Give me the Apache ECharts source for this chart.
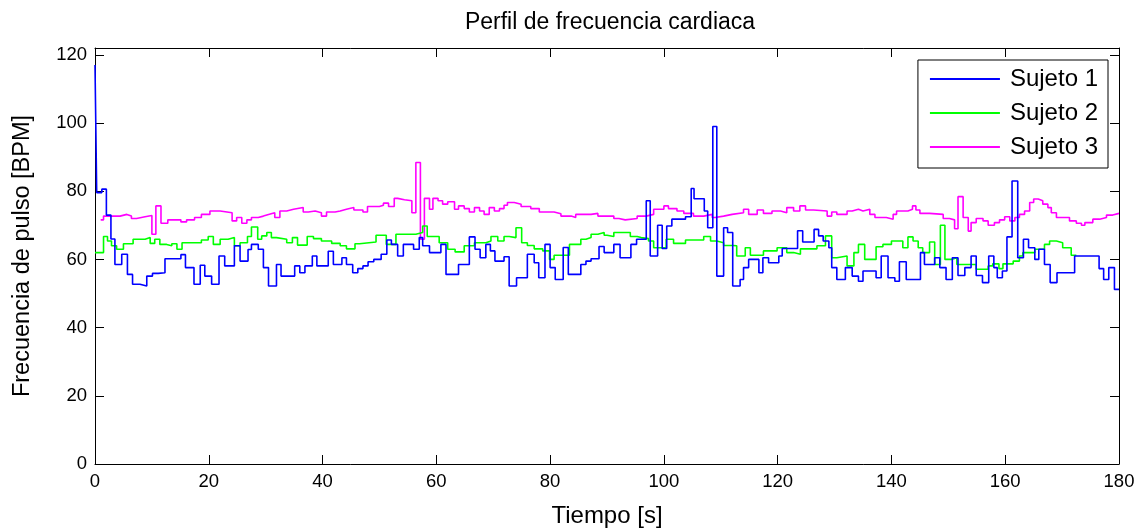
<!DOCTYPE html>
<html>
<head>
<meta charset="utf-8">
<script src="https://cdn.jsdelivr.net/npm/echarts@6/dist/echarts.min.js"></script>
<style>html,body{margin:0;padding:0;background:#fff}#c{width:1144px;height:529px}</style>
</head>
<body>
<div id="c"></div>
<script>
// ---- data: [time (s), BPM] step points (value holds until next time) ----
const sujeto1 = [[0,117],[0.3,79.6],[1.2,80.6],[2.0,73],[2.8,66],[3.5,58.5],[4.7,61.5],[5.7,55.6],[6.6,52.7],[7.9,52.2],[9.1,55.1],[10.1,55.9],[11.1,56.1],[12.3,60.2],[15.1,61.4],[15.9,57.6],[17.4,52.7],[18.5,58.3],[19.3,55.1],[20.5,52.7],[21.8,61.0],[22.8,58.1],[24.5,64.0],[25.5,59.5],[26.9,62.9],[27.5,64.4],[28.7,63.0],[29.6,57.6],[30.5,52.2],[31.9,58.5],[32.7,55.1],[35.1,58.1],[36.0,56.1],[36.9,58.1],[38.2,61.0],[39.0,58.1],[41.0,62.4],[41.9,58.5],[43.4,60.5],[44.2,58.5],
[45.3,56.1],[46.2,57.3],[47.1,58.1],[48.0,59.3],[49.0,60.0],[50.3,61.5],[51.3,65.7],[52.1,64.4],[53.2,61.0],[54.2,64.4],[56.0,63.0],[57.0,66.4],[57.6,64.0],[58.8,62.0],[60.8,64.4],[61.7,55.6],[63.9,58.5],[65.8,66.6],[66.8,63.0],[67.7,60.5],[68.7,64.4],[69.5,62.5],[70.3,59.5],[71.9,60.8],[72.8,52.2],[74.1,54.6],[76.0,61.5],[77.2,59.0],[78.0,54.6],[79.1,64.4],[80.0,57.6],[80.9,54.1],[82.3,63.5],[83.2,55.6],[85.4,58.5],[86.3,59.5],[87.2,60.2],[88.6,63.8],[89.5,62.0],
[91.2,64.4],[92.3,60.5],[94.2,64.4],[95.2,65.9],[96.9,77.2],[97.6,61.0],[98.9,70.0],[99.7,63.2],[100.5,69.8],[101.4,71.8],[103.8,72.5],[104.8,80.8],[105.3,77.8],[107.1,74.2],[107.7,69.3],[108.6,99],[109.3,55.1],[110.5,69.3],[111.2,67.9],[112.1,52.2],[113.4,54.1],[114.0,57.6],[114.9,60.0],[116.7,56.1],[117.4,60.5],[118.4,59.0],[120.2,61.0],[120.8,63.2],[123.5,68.4],[124.4,65.1],[126.4,68.8],[127.2,66.9],[128.0,65.4],[129.0,63.4],[129.5,57.6],[130.4,54.1],[131.9,57.6],[133.1,55.1],[134.2,53.6],
[135.0,56.6],[137.3,54.6],[138.2,61.0],[139.4,54.6],[140.6,53.6],[141.4,59.3],[142.6,54.1],[145.1,62.0],[145.8,58.5],[147.6,60.5],[148.5,57.6],[149.6,54.1],[150.7,60.5],[151.7,55.3],[152.9,57.6],[154.0,61.0],[154.9,55.3],[156.0,53.2],[157.1,61.0],[158.0,57.6],[158.6,54.6],[159.5,56.6],[160.3,66.6],[161.2,83.0],[162.2,60.5],[163.2,65.9],[164.1,63.4],[165.2,60.0],[165.9,63.0],[166.9,58.5],[167.9,53.2],[169.1,56.1],[172.2,61.0],[176.5,57.3],[177.3,54.1],[178.2,57.6],[179.2,51.2],[180,51.2]];

const sujeto2 = [[0,62.0],[1.5,66.7],[2.2,65.4],[2.9,64.0],[3.8,63.0],[5.0,64.6],[6.7,65.9],[8.8,66.4],[9.7,64.7],[10.5,65.9],[11.4,64.4],[12.6,64.0],[13.5,64.6],[14.4,63.0],[15.3,64.9],[18.7,65.7],[19.9,66.7],[20.8,64.4],[22.0,65.9],[23.4,66.4],[24.5,64.0],[25.5,64.9],[26.8,66.7],[27.5,69.5],[28.6,65.9],[29.3,66.9],[30.2,67.9],[31.0,66.4],[31.9,65.9],[33.7,64.9],[34.7,66.4],[35.6,64.2],[37.3,66.7],[38.4,66.1],[39.8,65.4],[41.6,64.7],[43.1,64.0],[44.2,63.1],
[45.7,64.6],[46.5,65.1],[49.4,67.1],[51.2,64.4],[52.9,67.4],[56.4,67.9],[57.6,69.8],[58.4,66.7],[60.5,64.9],[62.0,63.0],[63.3,62.2],[64.9,64.0],[66.7,64.9],[68.7,65.4],[69.6,66.7],[70.8,65.4],[71.9,66.7],[72.8,66.4],[74.0,69.3],[75.0,64.9],[76.0,64.1],[77.2,63.1],[78.7,62.5],[79.9,60.0],[80.7,61.2],[83.4,64.4],[85.4,65.9],[86.3,66.4],[87.2,67.4],[88.4,67.9],[89.5,67.1],
[90.0,66.7],[91.2,67.9],[94.1,66.7],[95.3,66.4],[96.0,66.1],[97.3,65.4],[98.2,63.4],[100.4,65.9],[101.7,64.7],[103.8,65.7],[107.0,66.7],[108.2,65.4],[109.3,64.9],[110.5,64.1],[112.1,64.0],[112.8,61.0],[114.3,63.4],[115.2,61.2],[117.5,62.5],[119.9,63.4],[121.6,62.0],[122.8,61.5],[124.0,63.1],[126.9,64.0],[128.4,66.9],[129.5,60.5],[130.4,61.0],[132.2,58.1],[133.4,62.0],[134.2,64.4],
[135.3,60.0],[137.3,63.7],[138.5,64.4],[140.0,65.4],[142.0,63.4],[142.9,66.6],[143.8,65.4],[144.7,63.4],[145.5,62.0],[146.7,65.1],[147.6,58.5],[148.6,70.0],[149.4,60.0],[150.5,60.5],[151.5,58.5],[154.9,57.1],[157.0,58.1],[157.8,58.7],[158.9,57.3],[159.6,58.7],[161.4,59.5],[162.5,61.0],[163.1,62.0],[165.2,63.0],[166.9,64.4],[167.8,65.4],[169.0,64.9],[170.1,63.4],[171.6,61.2],[172.5,61.2]];

const sujeto3 = [[1.0,71.6],[1.5,72.7],[4.4,73.2],[5.6,72.7],[6.4,72.0],[7.3,72.5],[8.8,72.9],[10.0,67.4],[10.7,75.7],[11.6,70.6],[12.8,71.6],[15.1,71.0],[16.1,71.6],[17.5,72.3],[18.7,73.2],[20.2,74.2],[22.0,73.7],[24.1,71.3],[24.9,72.3],[25.8,70.6],[26.7,71.6],[27.5,72.3],[28.7,72.7],[29.6,73.2],[30.5,73.7],[31.6,72.3],[32.5,74.2],[33.7,74.7],[34.9,75.2],[36.6,73.9],[37.5,74.2],[38.7,73.7],[39.8,72.7],[40.7,73.9],[42.2,74.2],[43.1,74.7],[44.2,75.2],
[45.5,74.5],[47.1,73.9],[47.9,75.5],[50.0,75.9],[50.7,76.5],[51.6,75.5],[52.6,77.9],[53.2,77.5],[54.4,77.2],[55.7,73.7],[56.4,88.4],[57.2,65.9],[57.9,77.9],[58.8,74.7],[59.4,77.9],[60.3,77.2],[61.1,76.2],[62.0,76.9],[63.2,74.7],[63.9,75.7],[64.9,74.9],[65.8,73.9],[66.7,75.2],[67.6,74.2],[68.4,73.2],[69.3,75.2],[70.2,74.2],[71.1,74.9],[71.9,75.9],[72.5,76.7],[73.7,76.2],[74.9,75.5],[76.6,74.9],[78.1,73.9],[80.7,73.4],[81.9,72.7],[83.7,72.3],[84.5,73.2],[87.2,73.5],[88.4,72.7],
[91.2,72.0],[92.1,71.6],[93.2,72.0],[95.3,72.7],[96.9,73.2],[98.2,74.7],[100.0,75.7],[100.8,74.9],[102.3,74.2],[103.5,73.5],[105.2,72.7],[107.0,73.2],[108.5,72.3],[109.0,72.7],[110.5,73.2],[112.0,73.7],[114.0,74.7],[114.9,73.2],[116.4,74.5],[117.5,73.5],[119.0,74.2],[120.5,73.7],[121.6,75.2],[122.8,74.2],[123.9,75.7],[124.9,74.5],[126.3,74.2],[128.7,72.7],[129.5,73.9],[130.4,73.2],[132.2,74.2],[133.1,74.7],[134.2,74.2],
[135.0,74.7],[136.2,73.2],[137.1,72.3],[139.1,71.8],[140.3,73.2],[140.9,74.2],[142.9,74.7],[143.7,75.7],[144.3,74.5],[145.0,73.5],[146.7,73.2],[149.1,72.0],[150.2,71.6],[151.1,69.0],[151.7,78.4],[152.6,72.3],[153.5,68.3],[154.0,70.8],[154.9,72.0],[156.1,71.3],[157.0,70.0],[158.1,70.8],[159.0,71.6],[159.9,72.5],[160.8,71.3],[161.7,72.3],[162.5,73.2],[163.4,74.2],[164.3,76.7],[165.0,77.7],[165.8,77.2],[166.6,76.2],[167.5,75.2],[168.1,73.7],[169.0,72.3],[171.3,71.3],[172.5,70.6],[173.4,70.0],[174.0,70.8],[175.4,71.8],[176.6,72.3],[177.8,73.0],[178.9,73.5],[180,73.5]];

const seriesNames = ['Sujeto 1', 'Sujeto 2', 'Sujeto 3'];
const seriesColors = ['#0000ff', '#00ff00', '#ff00ff'];
const xTicks = [0, 180, 20];   // min, max, interval
const yTicks = [0, 122, 20];

const FONT = 'Liberation Sans';
const chart = echarts.init(document.getElementById('c'), null, {renderer: 'canvas'});

function axisCommon(showLabel) {
  return {
    axisLine: {show: true, onZero: false, lineStyle: {color: '#000', width: 1}},
    axisTick: {show: true, inside: true, length: 9, lineStyle: {color: '#000', width: 1}},
    splitLine: {show: false},
    axisLabel: {show: showLabel, color: '#000', fontFamily: FONT, fontSize: 18.5, margin: 8, showMaxLabel: false}
  };
}

const xBase = {type: 'value', min: xTicks[0], max: xTicks[1], interval: xTicks[2]};
const yBase = {type: 'value', min: yTicks[0], max: yTicks[1], interval: yTicks[2]};

chart.setOption({
  animation: false,
  backgroundColor: '#fff',
  title: {
    text: 'Perfil de frecuencia cardiaca', left: 605, top: 6, textAlign: 'center',
    textStyle: {fontFamily: FONT, fontSize: 23, fontWeight: 'normal', color: '#000'}
  },
  grid: {left: 95, right: 25, top: 48, bottom: 65, containLabel: false, outerBoundsMode: 'none'},
  legend: {
    data: seriesNames, orient: 'vertical', right: 36, top: 60,
    icon: 'rect', itemWidth: 70, itemHeight: 2, itemGap: 10,
    padding: [7, 10, 9, 12],
    borderColor: '#000', borderWidth: 1, backgroundColor: '#fff', borderRadius: 0,
    textStyle: {fontFamily: FONT, fontSize: 24, lineHeight: 24, color: '#000', padding: [0, 0, 0, 5]}
  },
  xAxis: [
    Object.assign({}, xBase, axisCommon(true), {position: 'bottom',
      name: 'Tiempo [s]', nameLocation: 'middle', nameGap: 40,
      nameTextStyle: {fontFamily: FONT, fontSize: 24, color: '#000'}}),
    Object.assign({}, xBase, axisCommon(false), {position: 'top'})
  ],
  yAxis: [
    Object.assign({}, yBase, axisCommon(true), {position: 'left',
      name: 'Frecuencia de pulso [BPM]', nameLocation: 'middle', nameGap: 60,
      nameTextStyle: {fontFamily: FONT, fontSize: 23.5, color: '#000'}}),
    Object.assign({}, yBase, axisCommon(false), {position: 'right'})
  ],
  series: [sujeto1, sujeto2, sujeto3].map((d, i) => ({
    name: seriesNames[i], type: 'line', step: 'end', data: d,
    xAxisIndex: 0, yAxisIndex: 0,
    showSymbol: false, symbol: 'none',
    lineStyle: {color: seriesColors[i], width: 1.6},
    itemStyle: {color: seriesColors[i]},
    z: 3 - i
  }))
});
chart.setOption({xAxis: [{axisLabel: {showMaxLabel: true}}, {}]});
</script>
</body>
</html>
